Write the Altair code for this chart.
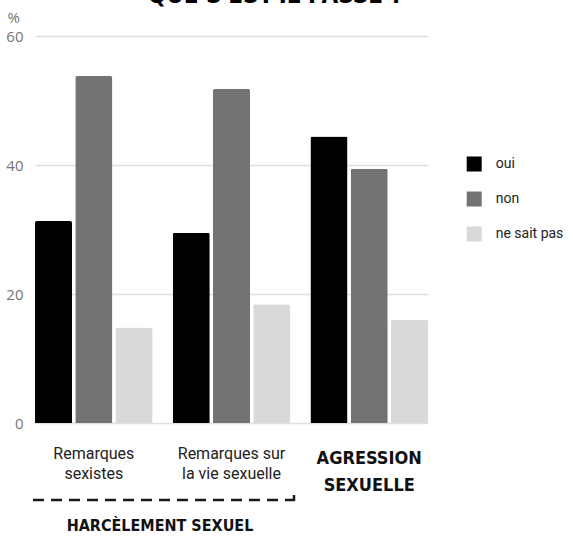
import altair as alt
import pandas as pd

# Survey answers, in percent
categories = ["Remarques sexistes", "Remarques sur la vie sexuelle", "Agression sexuelle"]
responses = ["oui", "non", "ne sait pas"]
oui = [31.3, 29.5, 44.4]
non = [53.8, 51.8, 39.4]
ne_sait_pas = [14.8, 18.4, 16.0]
colors = ["#000000", "#737373", "#d9d9d9"]

# Text drawn under the bars
labels = ["Remarques\nsexistes", "Remarques sur\nla vie sexuelle", "AGRESSION\nSEXUELLE"]
group_title = "HARCÈLEMENT SEXUEL"
chart_title = "QUE S'EST-IL PASSÉ ?"
y_ticks = [0, 20, 40, 60]

rows = []
for i, cat in enumerate(categories):
    for resp, vals in zip(responses, [oui, non, ne_sait_pas]):
        rows.append({"categorie": cat, "reponse": resp, "pct": vals[i]})
bars_df = pd.DataFrame(rows)
labels_df = pd.DataFrame({"categorie": categories, "label": labels})

W, H = 393, 387
CONDENSED = "Liberation Sans Narrow, DejaVu Sans Condensed, sans-serif"

x_scale = alt.Scale(domain=categories, paddingInner=0.146, paddingOuter=0)

bars = alt.Chart(bars_df).mark_bar(
    cornerRadiusTopLeft=2, cornerRadiusTopRight=2
).encode(
    x=alt.X(
        "categorie:N", scale=x_scale, sort=categories,
        axis=alt.Axis(labels=False, ticks=False, title=None,
                      domainColor="#c6c6c6", domainWidth=1.5),
    ),
    xOffset=alt.XOffset(
        "reponse:N", sort=responses,
        scale=alt.Scale(domain=responses, paddingInner=0.08, paddingOuter=0),
    ),
    y=alt.Y(
        "pct:Q",
        scale=alt.Scale(domain=[0, 60], nice=False),
        axis=alt.Axis(
            values=y_ticks, grid=True, gridColor="#e0e0e0", gridWidth=1.5,
            domain=False, ticks=False, tickSize=0, labelPadding=12,
            labelFont="Open Sans", labelFontSize=15, labelColor="#757575",
            title="%", titleAngle=0, titleAlign="left", titleBaseline="alphabetic",
            titleX=-28, titleY=-14, titleFont="Open Sans", titleFontSize=15,
            titleFontWeight="normal", titleColor="#757575",
        ),
    ),
    color=alt.Color(
        "reponse:N",
        sort=responses,
        scale=alt.Scale(domain=responses, range=colors),
        legend=alt.Legend(
            title=None, orient="none", legendX=431.7, legendY=120.5,
            symbolType="square", symbolSize=225, symbolStrokeWidth=0,
            labelFont="Roboto", labelFontSize=14, labelColor="#222222",
            labelOffset=14, rowPadding=20, padding=0,
        ),
    ),
)

# Category labels (regular) for the two harassment groups
cat_text = alt.Chart(labels_df.iloc[:2]).mark_text(
    font="Roboto", fontSize=16, color="#222222", lineBreak="\n",
    lineHeight=20.5, baseline="middle", align="center",
).encode(
    x=alt.X("categorie:N", scale=x_scale, sort=categories, axis=None),
    y=alt.value(417.5),
    text="label:N",
)

# Bold condensed label for the assault group
assault_text = alt.Chart(labels_df.iloc[2:]).mark_text(
    font=CONDENSED, fontSize=18, fontWeight="bold", color="#111111",
    lineBreak="\n", lineHeight=27.5, baseline="middle", align="center",
).encode(
    x=alt.X("categorie:N", scale=x_scale, sort=categories, axis=None),
    y=alt.value(422.5),
    text="label:N",
)

# Dashed bracket grouping the two harassment categories
bracket_df = pd.DataFrame({"t": [group_title]})
bracket = alt.Chart(bracket_df).mark_rule(
    color="#1a1a1a", strokeWidth=2.5, strokeDash=[11, 7]
).encode(x=alt.value(-2), x2=alt.value(260), y=alt.value(464))
bracket_end = alt.Chart(bracket_df).mark_rule(
    color="#1a1a1a", strokeWidth=2.5
).encode(x=alt.value(259), y=alt.value(459), y2=alt.value(465))

group_text = alt.Chart(bracket_df).mark_text(
    font=CONDENSED, fontSize=16, fontWeight="bold", color="#111111",
    baseline="middle", align="center",
).encode(x=alt.value(125), y=alt.value(490), text="t:N")

# Chart heading, running off the top edge
title_df = pd.DataFrame({"t": [chart_title]})
title_text = alt.Chart(title_df).mark_text(
    font=CONDENSED, fontSize=24, fontWeight="bold", color="#000000",
    baseline="alphabetic", align="center",
).encode(x=alt.value(240.5), y=alt.value(-33), text="t:N")

chart = alt.layer(
    bars, cat_text, assault_text, bracket, bracket_end, group_text, title_text
).properties(
    width=W, height=H,
    autosize=alt.AutoSizeParams(type="none"),
    padding={"left": 35, "top": 36, "right": 145, "bottom": 115},
).configure_view(stroke="transparent")

chart.save("out.html", embed_options={"renderer": "svg", "actions": False})
